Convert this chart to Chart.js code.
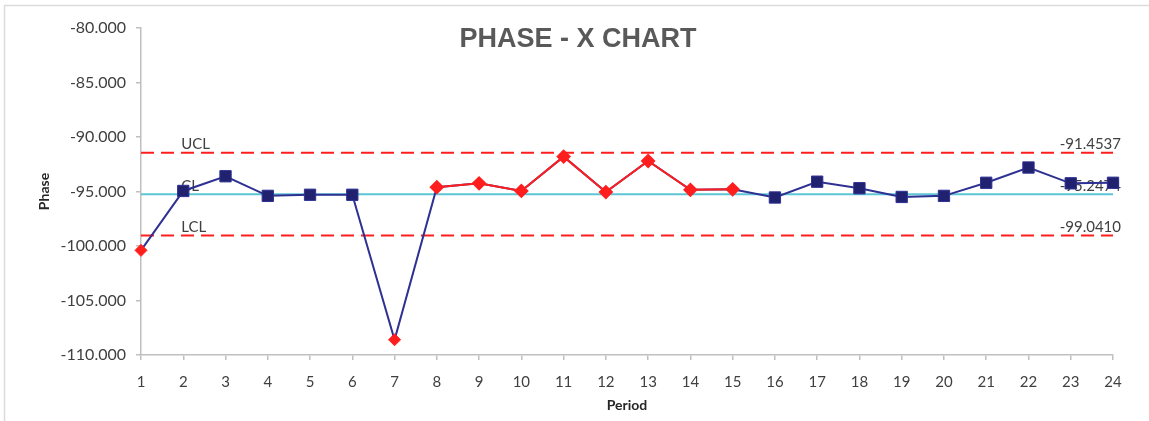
<!DOCTYPE html>
<html>
<head>
<meta charset="utf-8">
<style>
  html, body { margin: 0; padding: 0; background: #fff; }
  #wrap { width: 1149px; height: 421px; position: relative; }
</style>
<script src="https://cdn.jsdelivr.net/npm/chart.js@4.4.1/dist/chart.umd.min.js"></script>
</head>
<body>
<div id="wrap"><canvas id="c" width="1149" height="421"></canvas></div>
<script>
// Period labels on the x axis
const periods = ['1','2','3','4','5','6','7','8','9','10','11','12','13','14','15','16','17','18','19','20','21','22','23','24'];
// Measured phase per period
const phase = [-100.4, -94.95, -93.6, -95.4, -95.3, -95.3, -108.6, -94.6, -94.25, -94.95, -91.8, -95.05,
               -92.2, -94.85, -94.8, -95.55, -94.1, -94.7, -95.5, -95.4, -94.2, -92.8, -94.25, -94.2];
// Control limits
const limitNames = ['UCL', 'CL', 'LCL'];
const limitValues = [-91.4537, -95.2474, -99.0410];
// Periods outside the limits, and the run of periods flagged above the centre line
const outOfLimitPeriods = ['1', '7'];
const runPeriods = ['8', '9', '10', '11', '12', '13', '14', '15'];
// Y axis range
const yTicks = [-110, -105, -100, -95, -90, -85, -80];

const pick = (list) => periods.map((p, i) => list.includes(p) ? phase[i] : null);
const flat = (v) => periods.map(() => v);
const flagged = periods.map(p => outOfLimitPeriods.includes(p) || runPeriods.includes(p));

const textFont = "Lato, 'Open Sans', sans-serif";
const RED = '#FF1E1E';

const limitLabels = {
  id: 'limitLabels',
  beforeDatasetsDraw(chart) {
    const ctx = chart.ctx;
    const y = chart.scales.y;
    const x = chart.scales.x;
    ctx.save();
    ctx.fillStyle = '#404040';
    ctx.font = '15px ' + textFont;
    ctx.textBaseline = 'bottom';
    limitValues.forEach((v, i) => {
      const py = y.getPixelForValue(v) - 1;
      ctx.textAlign = 'left';
      ctx.fillText(limitNames[i], x.getPixelForValue(1) - 2, py);
      ctx.textAlign = 'right';
      ctx.fillText(v.toFixed(4), x.right + 8, py);
    });
    ctx.restore();
  },
  afterDraw(chart) {
    const ctx = chart.ctx;
    ctx.save();
    // frame edges
    ctx.strokeStyle = '#DCDCDC';
    ctx.lineWidth = 1.5;
    ctx.beginPath();
    ctx.moveTo(4.5, 421);
    ctx.lineTo(4.5, 5.5);
    ctx.lineTo(1149, 5.5);
    ctx.stroke();
    // title
    ctx.fillStyle = '#595959';
    ctx.font = "bold 27px 'Liberation Sans', Arial, sans-serif";
    ctx.textAlign = 'center';
    ctx.textBaseline = 'middle';
    ctx.fillText('PHASE - X CHART', 578, 40);
    ctx.restore();
  }
};

new Chart(document.getElementById('c'), {
  type: 'line',
  data: {
    labels: periods,
    datasets: [
      {
        label: 'Out of limits',
        data: pick(outOfLimitPeriods),
        showLine: false,
        pointStyle: 'rectRot',
        pointRadius: 6,
        pointBackgroundColor: RED,
        pointBorderColor: RED,
        borderColor: RED
      },
      {
        label: 'Run',
        data: pick(runPeriods),
        borderColor: RED,
        borderWidth: 2,
        pointStyle: 'rectRot',
        pointRadius: 6,
        pointBackgroundColor: RED,
        pointBorderColor: RED,
        spanGaps: false
      },
      {
        label: 'Phase',
        data: phase,
        borderColor: '#2E3192',
        borderWidth: 2,
        pointStyle: 'rect',
        pointRadius: flagged.map(f => f ? 0 : 8),
        pointBackgroundColor: '#202270',
        pointBorderColor: '#2E3192',
        pointBorderWidth: 1
      },
      {
        label: limitNames[1],
        data: flat(limitValues[1]),
        borderColor: '#5CC6D6',
        borderWidth: 2,
        pointRadius: 0
      },
      {
        label: limitNames[0],
        data: flat(limitValues[0]),
        borderColor: RED,
        borderWidth: 2,
        borderDash: [13, 7],
        pointRadius: 0
      },
      {
        label: limitNames[2],
        data: flat(limitValues[2]),
        borderColor: RED,
        borderWidth: 2,
        borderDash: [13, 7],
        pointRadius: 0
      }
    ]
  },
  options: {
    responsive: false,
    animation: false,
    events: [],
    layout: { padding: { left: 28, right: 36, top: 28, bottom: 7 } },
    elements: { line: { tension: 0 } },
    plugins: { legend: { display: false }, tooltip: { enabled: false }, title: { display: false } },
    scales: {
      x: {
        type: 'category',
        offset: false,
        grid: { drawOnChartArea: false, drawTicks: true, tickLength: 5, color: '#BFBFBF', lineWidth: 1.5 },
        border: { color: '#BFBFBF', width: 1.5 },
        ticks: { color: '#404040', font: { family: textFont, size: 15 }, maxRotation: 0, autoSkip: false, padding: 13 },
        title: { display: true, text: 'Period', color: '#262626', font: { family: textFont, size: 14, weight: 'bold' }, padding: { top: 4, bottom: 0 } },
        afterFit(s) { s.height = 421 - 355 - 7; }
      },
      y: {
        min: yTicks[0],
        max: yTicks[yTicks.length - 1],
        afterBuildTicks(s) { s.ticks = yTicks.map(v => ({ value: v })); },
        grid: { drawOnChartArea: false, drawTicks: true, tickLength: 5, color: '#BFBFBF', lineWidth: 1.5 },
        border: { color: '#BFBFBF', width: 1.5 },
        ticks: { color: '#404040', font: { family: textFont, size: 16 }, padding: 10, callback: v => Number(v).toFixed(3) },
        title: { display: true, text: 'Phase', color: '#262626', font: { family: textFont, size: 14, weight: 'bold' }, padding: { top: 8, bottom: 0 } },
        afterFit(s) { s.width = 141 - 28; }
      }
    }
  },
  plugins: [limitLabels]
});
</script>
</body>
</html>
